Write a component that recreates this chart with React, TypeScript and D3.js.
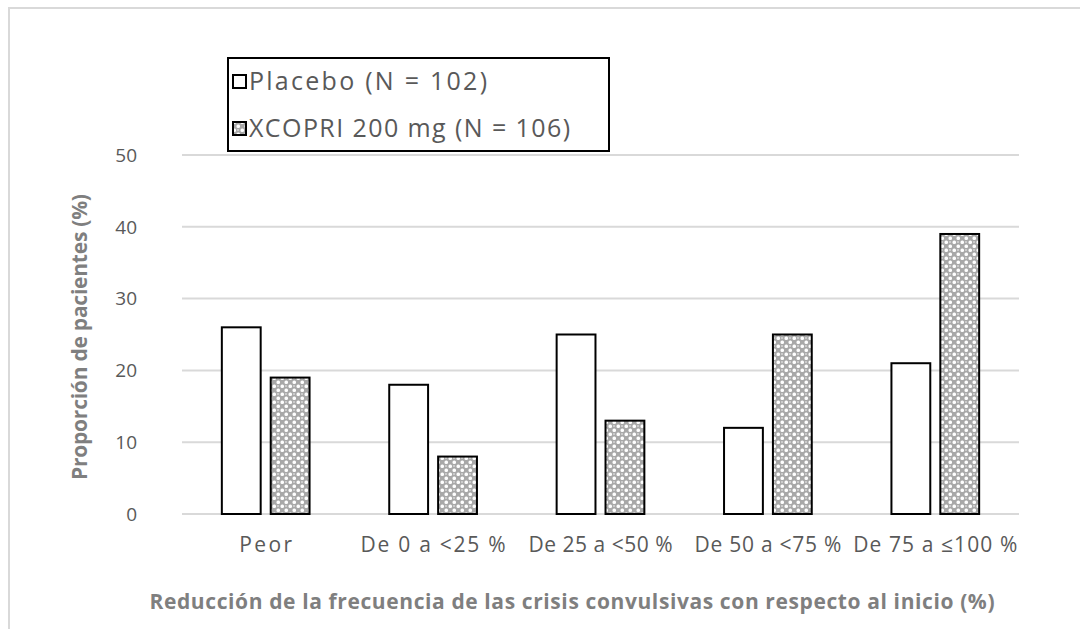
import { useRef, useEffect } from 'react';
import * as d3 from 'd3';

const categories = ['Peor', 'De 0 a <25 %', 'De 25 a <50 %', 'De 50 a <75 %', 'De 75 a ≤100 %'];
const placebo = [26, 18, 25, 12, 21];
const xcopri = [19, 8, 13, 25, 39];
const seriesNames = ['Placebo (N = 102)', 'XCOPRI 200 mg (N = 106)'];
const yTicks = [0, 10, 20, 30, 40, 50];

// anchos de texto medidos en la referencia (estilo)
const categoryWidths = [53, 145, 144, 147, 164];
const legendWidths = [238, 321];

const W = 1080;
const H = 629;
const FONT = "'Open Sans', 'Liberation Sans', sans-serif";
const GREY_TEXT = '#595959';

export default function App() {
  const svgRef = useRef<SVGSVGElement>(null);

  useEffect(() => {
    const svg = d3.select(svgRef.current).html('');

    // patron de relleno para XCOPRI
    const defs = svg.append('defs');
    const pat = defs.append('pattern')
      .attr('id', 'dots')
      .attr('patternUnits', 'userSpaceOnUse')
      .attr('width', 8)
      .attr('height', 8);
    pat.append('rect').attr('width', 8).attr('height', 8).attr('fill', '#a8a8a8');
    pat.append('rect').attr('x', 0.5).attr('y', 0.5).attr('width', 3.5).attr('height', 3.5).attr('rx', 1.5).attr('fill', '#ffffff');
    pat.append('rect').attr('x', 4.5).attr('y', 4.5).attr('width', 3.5).attr('height', 3.5).attr('rx', 1.5).attr('fill', '#ffffff');
    pat.append('rect').attr('x', 4.8).attr('y', 1).attr('width', 2.4).attr('height', 2).attr('rx', 1).attr('fill', '#d0d0d0');

    // marco del grafico
    svg.append('path')
      .attr('d', `M9,${H} L9,8 L${W},8`)
      .attr('fill', 'none')
      .attr('stroke', '#d9d9d9')
      .attr('stroke-width', 2);

    const plot = { left: 182, right: 1019, top: 155, bottom: 514 };

    const y = d3.scaleLinear().domain([0, 50]).range([plot.bottom, plot.top]);
    const x0 = d3.scaleBand().domain(categories).range([plot.left, plot.right]);
    const bw = x0.bandwidth();
    const barW = bw * 0.232;
    const gap = bw * 0.06;
    const groupW = barW * 2 + gap;

    // lineas de cuadricula
    svg.append('g')
      .selectAll('line')
      .data(yTicks)
      .enter()
      .append('line')
      .attr('x1', plot.left)
      .attr('x2', plot.right)
      .attr('y1', d => y(d))
      .attr('y2', d => y(d))
      .attr('stroke', '#d9d9d9')
      .attr('stroke-width', 2);

    // etiquetas eje Y
    svg.append('g')
      .selectAll('text')
      .data(yTicks)
      .enter()
      .append('text')
      .attr('x', 137)
      .attr('y', d => y(d))
      .attr('dy', '0.36em')
      .attr('text-anchor', 'end')
      .attr('font-family', FONT)
      .attr('font-size', 19)
      .attr('fill', GREY_TEXT)
      .text(d => d);

    // barras
    const series = [
      { values: placebo, fill: '#ffffff' },
      { values: xcopri, fill: 'url(#dots)' }
    ];
    series.forEach((s, si) => {
      svg.append('g')
        .selectAll('rect')
        .data(s.values)
        .enter()
        .append('rect')
        .attr('x', (_, i) => (x0(categories[i]) as number) + (bw - groupW) / 2 + si * (barW + gap))
        .attr('y', d => y(d))
        .attr('width', barW)
        .attr('height', d => y(0) - y(d))
        .attr('fill', s.fill)
        .attr('stroke', '#000')
        .attr('stroke-width', 2);
    });

    // etiquetas de categoria
    svg.append('g')
      .selectAll('text')
      .data(categories)
      .enter()
      .append('text')
      .attr('x', d => (x0(d) as number) + bw / 2)
      .attr('y', 552)
      .attr('text-anchor', 'middle')
      .attr('font-family', FONT)
      .attr('font-size', 21)
      .attr('textLength', (_, i) => categoryWidths[i])
      .attr('lengthAdjust', 'spacing')
      .attr('fill', GREY_TEXT)
      .text(d => d);

    // titulos de ejes
    svg.append('text')
      .attr('x', 572)
      .attr('y', 609)
      .attr('text-anchor', 'middle')
      .attr('font-family', FONT)
      .attr('font-weight', 'bold')
      .attr('font-size', 21)
      .attr('textLength', 845)
      .attr('lengthAdjust', 'spacing')
      .attr('fill', '#7f7f7f')
      .text('Reducción de la frecuencia de las crisis convulsivas con respecto al inicio (%)');

    svg.append('text')
      .attr('transform', `translate(87, 337) rotate(-90)`)
      .attr('text-anchor', 'middle')
      .attr('font-family', FONT)
      .attr('font-weight', 'bold')
      .attr('font-size', 21)
      .attr('textLength', 286)
      .attr('lengthAdjust', 'spacing')
      .attr('fill', '#7f7f7f')
      .text('Proporción de pacientes (%)');

    // leyenda
    const lg = svg.append('g');
    lg.append('rect')
      .attr('x', 228)
      .attr('y', 58)
      .attr('width', 381)
      .attr('height', 93)
      .attr('fill', '#fff')
      .attr('stroke', '#000')
      .attr('stroke-width', 2);
    const fills = ['#ffffff', 'url(#dots)'];
    seriesNames.forEach((name, i) => {
      const cy = 81 + i * 47;
      lg.append('rect')
        .attr('x', 233)
        .attr('y', cy - 6)
        .attr('width', 13)
        .attr('height', 13)
        .attr('fill', fills[i])
        .attr('stroke', '#000')
        .attr('stroke-width', 2);
      lg.append('text')
        .attr('x', 249)
        .attr('y', cy)
        .attr('dy', '0.36em')
        .attr('font-family', FONT)
        .attr('font-size', 25)
        .attr('textLength', legendWidths[i])
        .attr('lengthAdjust', 'spacing')
        .attr('fill', GREY_TEXT)
        .text(name);
    });
  }, []);

  return (
    <svg
      ref={svgRef}
      width={W}
      height={H}
      style={{ position: 'absolute', left: 0, top: 0, background: '#fff' }}
    />
  );
}
